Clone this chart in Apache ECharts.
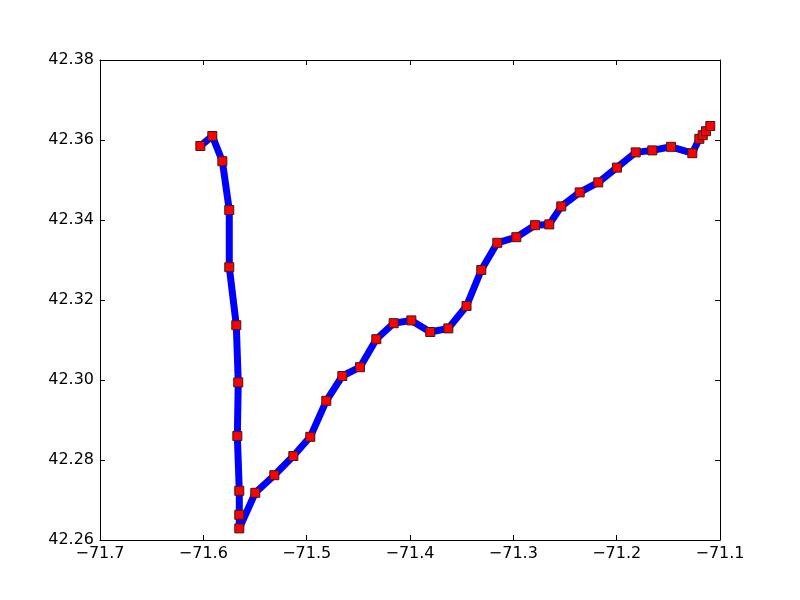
<!DOCTYPE html>
<html>
<head>
<meta charset="utf-8">
<script src="https://cdn.jsdelivr.net/npm/echarts@6/dist/echarts.min.js"></script>
<style>html,body{margin:0;padding:0;background:#fff;}#c{width:800px;height:600px;}</style>
</head>
<body>
<div id="c"></div>
<script>
// Longitudes (x) and latitudes (y) of the route points
const lon = [-71.6029, -71.5913, -71.5816, -71.5749, -71.5749, -71.5681, -71.5662, -71.5671, -71.5652, -71.5652,
  -71.5652, -71.5497, -71.5313, -71.5129, -71.4965, -71.4810, -71.4655, -71.4484, -71.4326, -71.4158,
  -71.3987, -71.3804, -71.3629, -71.3453, -71.3310, -71.3155, -71.2971, -71.2790, -71.2652, -71.2536,
  -71.2358, -71.2178, -71.1997, -71.1816, -71.1655, -71.1474, -71.1268, -71.1200, -71.1167, -71.1135,
  -71.1094];
const lat = [42.3585, 42.3610, 42.3547, 42.3425, 42.3282, 42.3137, 42.2994, 42.2860, 42.2723, 42.2663,
  42.2629, 42.2718, 42.2762, 42.2810, 42.2858, 42.2948, 42.3010, 42.3032, 42.3102, 42.3142,
  42.3149, 42.3120, 42.3129, 42.3185, 42.3275, 42.3343, 42.3357, 42.3387, 42.3389, 42.3434,
  42.3469, 42.3494, 42.3531, 42.3569, 42.3574, 42.3583, 42.3567, 42.3603, 42.3612, 42.3622,
  42.3635];
const xTicks = {min: -71.7, max: -71.1, step: 0.1};
const yTicks = {min: 42.26, max: 42.38, step: 0.02};

const points = lon.map((x, i) => [x, lat[i]]);
const font = 'DejaVu Sans';
const fmtX = v => v.toFixed(1).replace('-', '\u2212');
const fmtY = v => v.toFixed(2);

function xAx(pos, show) {
  return {
    type: 'value', position: pos, min: xTicks.min, max: xTicks.max, interval: xTicks.step,
    axisLine: {show: true, onZero: false, lineStyle: {color: '#000', width: 1}},
    axisTick: {show: true, inside: true, length: 5, lineStyle: {color: '#000'}},
    axisLabel: {show: show, formatter: fmtX, color: '#000', fontFamily: font, fontSize: 16, margin: 6},
    splitLine: {show: false}
  };
}
function yAx(pos, show) {
  return {
    type: 'value', position: pos, min: yTicks.min, max: yTicks.max, interval: yTicks.step,
    axisLine: {show: true, onZero: false, lineStyle: {color: '#000', width: 1}},
    axisTick: {show: true, inside: true, length: 5, lineStyle: {color: '#000'}},
    axisLabel: {show: show, formatter: fmtY, color: '#000', fontFamily: font, fontSize: 16, margin: 6},
    splitLine: {show: false}
  };
}

const chart = echarts.init(document.getElementById('c'), null, {renderer: 'canvas'});
chart.setOption({
  animation: false,
  backgroundColor: '#fff',
  grid: {left: 100, right: 80, top: 60, bottom: 60, containLabel: false},
  xAxis: [xAx('bottom', true), xAx('top', false)],
  yAxis: [yAx('left', true), yAx('right', false)],
  series: [{
    type: 'line',
    data: points,
    xAxisIndex: 0, yAxisIndex: 0,
    lineStyle: {color: '#0000ff', width: 7, join: 'round'},
    symbol: 'rect',
    symbolSize: 9,
    showAllSymbol: true,
    itemStyle: {color: '#ff0000', borderColor: '#3a1a1a', borderWidth: 1},
    clip: false
  }]
});
</script>
</body>
</html>
